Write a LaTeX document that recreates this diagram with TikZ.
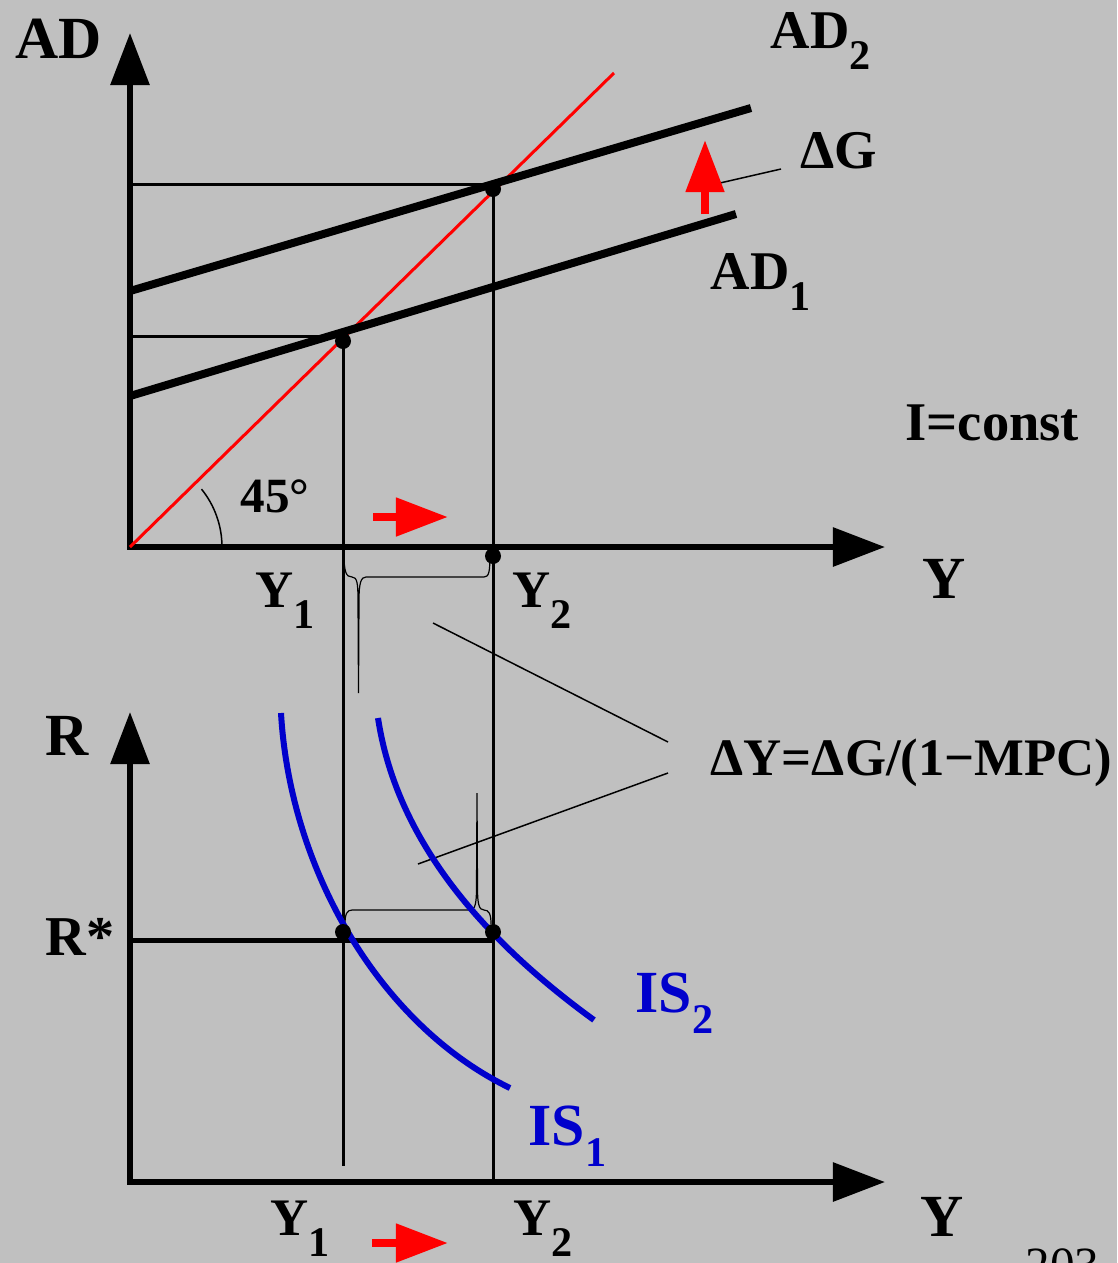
\documentclass[tikz,border=0pt]{standalone}
\usepackage{fontspec}
\setmainfont{Liberation Serif}
\usetikzlibrary{arrows.meta, calc, positioning}
\definecolor{hinter}{HTML}{C0C0C0}
\definecolor{signal}{HTML}{FF0000}
\definecolor{isblau}{HTML}{0000CC}
\newcommand{\tiefidx}[1]{\raisebox{-6pt}{\fontsize{12}{14}\selectfont #1}}

\begin{document}
\begin{tikzpicture}[
        x=0.01cm, y=-0.01cm,
        every node/.style={font=\bfseries\fontsize{17}{20}\selectfont,
                           inner sep=0pt, anchor=base west},
        achse/.style={line width=0.06cm, -{Triangle[length=0.52cm, width=0.38cm]}},
        kurve/.style={line width=0.08cm},
        hilfe/.style={line width=0.03cm},
        zeiger/.style={line width=0.015cm},
        schub/.style={signal, line width=0.08cm, -{Triangle[length=0.52cm, width=0.37cm]}},
        punkt/.style={fill=black},
        klein/.style={font=\bfseries\fontsize{15}{18}\selectfont},
        mittel/.style={font=\bfseries\fontsize{15.5}{18}\selectfont},
      ]
      \fill[hinter] (0,0) rectangle (1117,1263);
      \useasboundingbox (0,0) rectangle (1117,1263);

      % Punkte
      \coordinate (O1) at (130,547);
      \coordinate (O2) at (130,1182);
      \coordinate (E1) at (343,341);
      \coordinate (E2) at (493,189);
      \coordinate (Y2a) at (493,556);
      \coordinate (R1) at (343,932);
      \coordinate (R2) at (493,932);

      % oberes Diagramm: Achsen
      \draw[achse] (O1) -- (130,33);
      \draw[achse] ($(O1)+(-3,0)$) -- (885,547);

      % Hilfslinien
      \draw[hilfe] (130,336) -- (343,336);
      \draw[hilfe] (130,184) -- (493,184);
      \draw[hilfe] (343,336) -- (343,1166);
      \draw[hilfe] (493,184) -- (493,1182);

      % 45-Grad-Linie
      \draw[signal, line width=0.03cm] (O1) -- (614,73);
      \draw[line width=0.015cm] (222,547) arc[start angle=0, end angle=-39, radius=92];
      \node[font=\bfseries\fontsize{14}{16}\selectfont] (grad) at (240,512) {45°};

      % Nachfrage
      \draw[kurve] (130,396) -- (736,214);
      \draw[kurve] (130,291) -- (751,108);
      \node (ad) at (15,58) {AD};
      \node[mittel] (ad2) at (770,48) {AD\tiefidx{2}};
      \node[mittel] (ad1) at (710,289) {AD\tiefidx{1}};
      \node[mittel] (dg) at (800,168) {ΔG};
      \coordinate (dgA) at (720,183);
      \coordinate (dgB) at (781,169);
      \draw[zeiger] (dgA) -- (dgB);
      \draw[schub] (705,214) -- (705,140);
      \node[mittel] (ic) at (905,440) {I=const};

      \fill[punkt] (E1) circle[radius=8];
      \fill[punkt] (E2) circle[radius=8];
      \fill[punkt] (Y2a) circle[radius=8];

      \node (yo) at (922,598) {Y};
      \node[klein] (yo1) at (255,607) {Y\tiefidx{1}};
      \node[klein] (yo2) at (512,607) {Y\tiefidx{2}};
      \draw[schub] (373,517) -- (448,517);

      % Klammern
      \draw[line width=0.012cm]
        (344,553) .. controls (344,572) and (346,577) .. (352,577)
        .. controls (357,577) and (358,583) .. (358,600) -- (358.5,693)
        -- (359,600) .. controls (359,583) and (361,577) .. (366,577)
        -- (484,577) .. controls (489,577) and (490,572) .. (490,553);
      \draw[line width=0.012cm]
        (345,924) .. controls (345,914) and (347,910) .. (352,910)
        -- (470,910) .. controls (475,910) and (476.5,904) .. (476.5,888) -- (477,793)
        -- (477.5,888) .. controls (477.5,904) and (479,910) .. (484,910)
        .. controls (489,910) and (491,914) .. (491,924);

      % Multiplikator
      \node[klein] (mult) at (710,775) {ΔY=ΔG/(1−MPC)};
      \coordinate (kA) at (433,623);
      \coordinate (kB) at (418,864);
      \coordinate (mA) at (668,742);
      \coordinate (mB) at (668,773);
      \draw[zeiger] (kA) -- (mA);
      \draw[zeiger] (kB) -- (mB);

      % unteres Diagramm
      \draw[achse] (O2) -- (130,712);
      \draw[achse] ($(O2)+(-3,0)$) -- (885,1182);
      \node (r) at (45,755) {R};
      \node[font=\bfseries\fontsize{16}{18}\selectfont] (rs) at (45,955) {R*};
      \draw[line width=0.05cm] (130,940) -- (493,940);

      \draw[isblau, line width=0.06cm]
        (281,713) .. controls (290,870) and (380,1025) .. (510,1088);
      \draw[isblau, line width=0.06cm]
        (378,718) .. controls (395,830) and (470,930) .. (594,1020);
      \node[isblau] (is2) at (635,1012) {IS\tiefidx{2}};
      \node[isblau] (is1) at (528,1145) {IS\tiefidx{1}};

      \fill[punkt] (R1) circle[radius=8];
      \fill[punkt] (R2) circle[radius=8];

      \node (yu) at (920,1236) {Y};
      \node[klein] (yu1) at (270,1235) {Y\tiefidx{1}};
      \node[klein] (yu2) at (513,1235) {Y\tiefidx{2}};
      \draw[schub] (372,1243) -- (448,1243);
      \node[font=\fontsize{14}{16}\selectfont] (seite) at (1025,1281) {203};
    \end{tikzpicture}
\end{document}
